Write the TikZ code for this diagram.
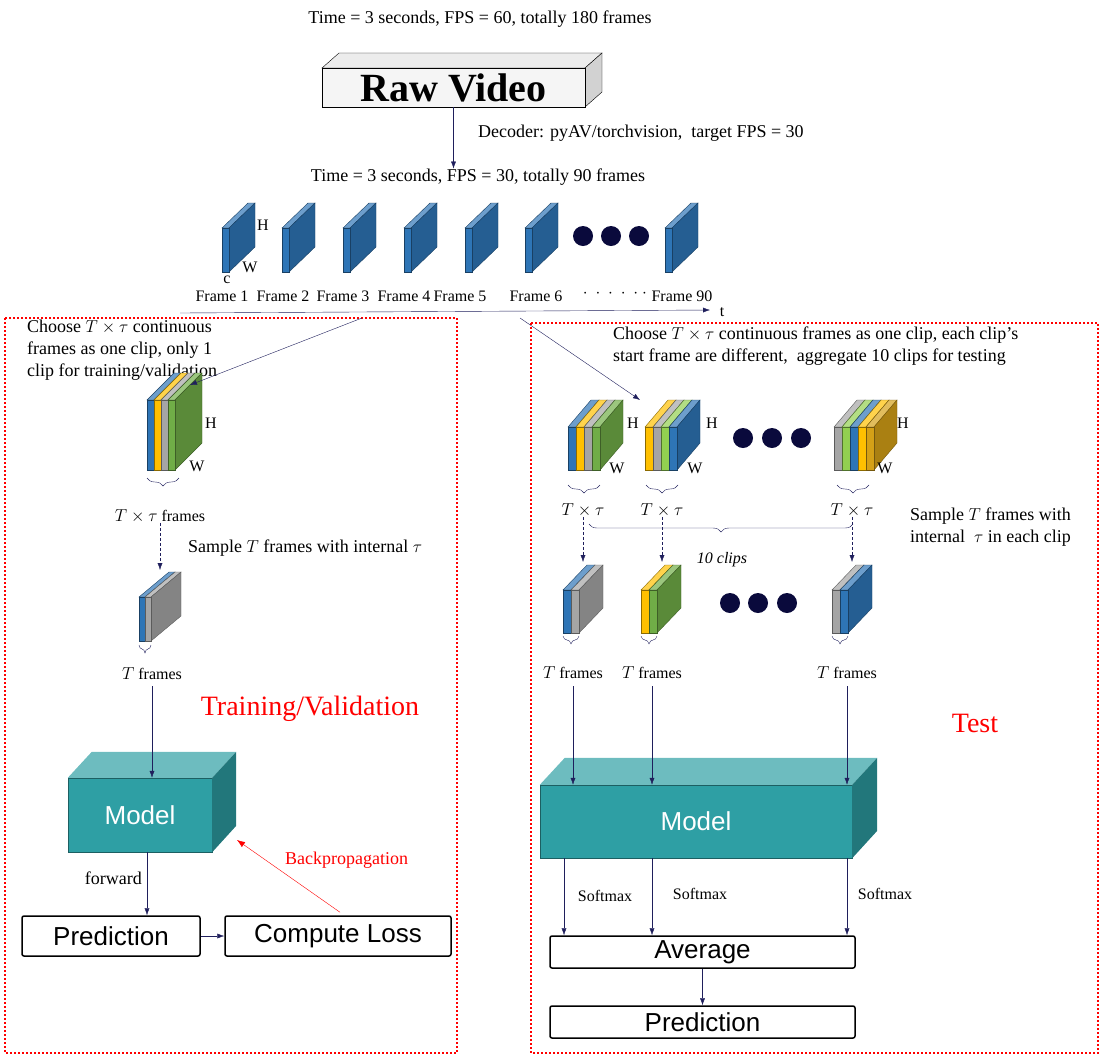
\documentclass[tikz,border=0pt]{standalone}
\usepackage{fontspec}
\setmainfont{Liberation Serif}
\newfontfamily\arialf{Liberation Sans}
\usetikzlibrary{positioning,decorations.pathreplacing,arrows.meta}
\definecolor{framebl}{HTML}{2E75B6}
\definecolor{clipyl}{HTML}{FFC000}
\definecolor{clipgy}{HTML}{A5A5A5}
\definecolor{cliplg}{HTML}{92D050}
\definecolor{clipgr}{HTML}{70AD47}
\definecolor{clipdb}{HTML}{1F5F8F}
\definecolor{clipgd}{HTML}{D4A017}
\definecolor{tealf}{HTML}{2E9FA4}
\definecolor{dotnv}{HTML}{0A0A3C}
\definecolor{arrnv}{HTML}{1F1F5C}
% one slab: x y w h dx dy colour
\newcommand\slab[7]{%
  \filldraw[draw=#7!55!black,fill=#7!70!white] (#1,#2) -- ++(#5,-#6) -- ++(#3,0) -- ++(-#5,#6) -- cycle;
  \filldraw[draw=#7!55!black,fill=#7!80!black] ({#1+#3},#2) -- ++(#5,-#6) -- ++(0,#4) -- ++(-#5,#6) -- cycle;
  \filldraw[draw=#7!55!black,fill=#7] (#1,#2) rectangle ++(#3,#4);}
% stack of slabs: x y w h dx dy {colours}
\newcommand\clipstk[7]{%
  \foreach \c [count=\i] in {#7}{\pgfmathsetmacro\xx{#1+(\i-1)*#3}\slab{\xx}{#2}{#3}{#4}{#5}{#6}{\c}}}
\tikzset{
  txt/.style={font=\fontsize{18}{22}\selectfont,inner sep=0pt},
  lbl/.style={font=\fontsize{16}{18}\selectfont,inner sep=0pt},
  arr/.style={-{Latex[length=7pt,width=5pt]},arrnv,thin},
  darr/.style={arr,densely dashed},
  brc/.style={decorate,decoration={brace,mirror,amplitude=8pt},arrnv,thin},
  redbox/.style={red,line width=2pt,dash pattern=on 2pt off 2pt},
  dot/.style={circle,fill=dotnv,minimum size=20pt,inner sep=0pt},
  outbox/.style={draw,line width=1.5pt,rounded corners=2pt,font=\arialf\fontsize{26}{30}\selectfont,inner sep=0pt},
  modelbox/.style={draw=tealf!60!black,fill=tealf,text=white,font=\arialf\fontsize{26}{30}\selectfont,inner sep=0pt},
  redtxt/.style={red,font=\fontsize{28}{32}\selectfont,inner sep=0pt},
}
\begin{document}
\begin{tikzpicture}[x=1pt,y=-1pt]
\useasboundingbox (0,0) rectangle (1110,1058);
% raw video
\node[txt] (t60) at (480,19) {Time = 3 seconds, FPS = 60, totally 180 frames};
\filldraw[draw=black,fill=gray!15] (322,68) -- ++(17,-15) -- ++(263,0) -- ++(-17,15) -- cycle;
\filldraw[draw=black,fill=gray!35] (585,68) -- ++(17,-15) -- ++(0,39) -- ++(-17,15) -- cycle;
\node[draw,fill=gray!8,minimum width=263,minimum height=39,inner sep=0pt,font=\bfseries\fontsize{40}{42}\selectfont] (raw) at (453.5,87.5) {Raw Video};
\node[txt,anchor=west] (dec) at (478,133) {Decoder: pyAV/torchvision, \ target FPS = 30};
\node[txt] (t30) at (478,177) {Time = 3 seconds, FPS = 30, totally 90 frames};
\draw[arr] (raw.south) -- (t30.north-|raw.south);
% frames
\foreach \x in {222,282,343,404,465,525,665} \slab{\x}{228}{7}{44}{26}{25}{framebl};
\foreach \x [count=\i] in {583,611,639} \node[dot] (fd\i) at (\x,236) {};
\node[lbl] at (263,225) {H};
\node[lbl] at (250,267) {W};
\node[lbl] at (227,280) {c};
\foreach \x/\t [count=\i] in {222/Frame 1,283/Frame 2,343/Frame 3,404/Frame 4,460/Frame 5,536/Frame 6,682/Frame 90}
  \node[lbl] (fl\i) at (\x,296) {\t};
\node[lbl] at (615,294) {$\cdot\ \cdot\ \cdot\ \cdot\ \cdot\ \cdot$};
\coordinate (t0) at (180,313);
\coordinate (t1) at (710,310);
\draw[arr] (t0) -- (t1);
\node[lbl] (tl) at (722,312) {t};
% boxes
\draw[redbox] (5,318) rectangle (457,1053);
\draw[redbox] (531,323) rectangle (1098,1053);
% training / validation
\node[txt,anchor=north west,align=left] (chL) at (27,320) {Choose $T\times\tau$ continuous\\frames as one clip, only 1\\clip for training/validation};
\clipstk{147}{400}{7}{70}{27}{27}{framebl,clipyl,clipgy,clipgr}
\coordinate (cL) at (190,385);
\coordinate (sL) at (362,318);
\draw[arr] (sL) -- (cL);
\node[lbl] at (211,423) {H};
\node[lbl] at (197,466) {W};
\draw[brc] (147,478) -- (179,478);
\node[lbl] (tL) at (160,516) {$T\times\tau$ frames};
\coordinate (sTL) at (160,570);
\draw[darr] (tL) -- (sTL);
\node[txt,anchor=west] at (188,548) {Sample $T$ frames with internal $\tau$};
\clipstk{139}{597}{6}{44}{30}{25}{framebl,clipgy}
\draw[brc] (139,645) -- (151,645);
\node[lbl] (fL) at (152,674) {$T$ frames};
\node[redtxt] at (310,709) {Training/Validation};
\node[modelbox,minimum width=144,minimum height=74] (mL) at (140,815) {Model};
\fill[tealf!70!white] (mL.north west) -- ++(24,-26) -- ([shift={(24,-26)}]mL.north east) -- (mL.north east) -- cycle;
\fill[tealf!75!black] (mL.north east) -- ++(24,-26) -- ++(0,74) -- (mL.south east) -- cycle;
\coordinate (fLs) at (152,686);
\draw[arr] (fLs) -- (fLs|-mL.north);
\node[outbox,minimum width=178,minimum height=40] (pL) at (111,936) {Prediction};
\node[outbox,minimum width=226,minimum height=40] (lossL) at (338,936) {Compute Loss};
\draw[arr] (mL.south) ++(7,0) coordinate (mLs) -- (mLs|-pL.north);
\node[txt,anchor=east] at (142,878) {forward};
\draw[arr] (pL) -- (lossL);
\coordinate (bp) at (237,840);
\draw[-{Latex[length=8pt,width=6pt]},red] (lossL.north) ++(2,-3) -- (bp);
\node[txt,red,anchor=west] at (285,860) {Backpropagation};
% test
\node[txt,anchor=north west,align=left] (chR) at (613,327) {Choose $T\times\tau$ continuous frames as one clip, each clip's\\start frame are different, \ aggregate 10 clips for testing};
\coordinate (sR) at (520,318);
\coordinate (cR) at (640,400);
\draw[arr] (sR) -- (cR);
\clipstk{568}{427}{8}{43}{23}{27}{framebl,clipyl,clipgy,clipgr}
\clipstk{645}{427}{8}{43}{23}{27}{clipyl,clipgy,cliplg,framebl}
\clipstk{834}{427}{8}{43}{23}{27}{clipgy,cliplg,framebl,clipyl,clipgd}
\foreach \x/\y in {633/423,712/423,903/423} \node[lbl] at (\x,\y) {H};
\foreach \x/\y in {617/468,695/468,885/468} \node[lbl] at (\x,\y) {W};
\foreach \x [count=\i] in {743,772,801} \node[dot] (cd\i) at (\x,438) {};
\foreach \x/\n [count=\i] in {568/583,646/662,837/852}{
  \draw[brc] (\x,485) -- ++(32,0);
  \node[lbl] (tR\i) at (\n,510) {$T\times\tau$};
  \coordinate (sR\i) at (\n,562);
  \draw[darr] (tR\i) -- (sR\i);}
\draw[brc] (589,524) -- (853,524);
\node[lbl,font=\itshape\fontsize{16}{18}\selectfont] at (722,560) {10 clips};
\node[txt,anchor=north west,align=left] at (910,508) {Sample $T$ frames with\\internal \ $\tau$ in each clip};
\clipstk{563}{590}{8}{43}{24}{25}{framebl,clipgy}
\clipstk{641}{590}{8}{43}{24}{25}{clipyl,clipgr}
\clipstk{832}{590}{8}{43}{24}{25}{clipgy,framebl}
\foreach \x [count=\i] in {730,758,787} \node[dot] (sd\i) at (\x,603) {};
\foreach \x in {563,641,832} \draw[brc] (\x,636) -- ++(16,0);
\node[redtxt] at (975,723) {Test};
\node[modelbox,minimum width=312,minimum height=73] (mR) at (696,821.5) {Model};
\fill[tealf!70!white] (mR.north west) -- ++(25,-27) -- ([shift={(25,-27)}]mR.north east) -- (mR.north east) -- cycle;
\fill[tealf!75!black] (mR.north east) -- ++(25,-27) -- ++(0,73) -- (mR.south east) -- cycle;
\node[outbox,minimum width=305,minimum height=32] (avg) at (702.5,952) {Average};
\node[outbox,minimum width=305,minimum height=32] (pR) at (702.5,1022) {Prediction};
\foreach \x/\s [count=\i] in {573/564,652/652,847/847}{
  \node[lbl] (fR\i) at (\x,673) {$T$ frames};
  \draw[arr] (\x,686) -- (mR.north-|fR\i);
  \draw[arr] (mR.south-|{\s,0}) -- (avg.north-|{\s,0});}
\foreach \x/\y in {605/896,700/894,885/894} \node[lbl] at (\x,\y) {Softmax};
\draw[arr] (avg) -- (pR);
\end{tikzpicture}
\end{document}
